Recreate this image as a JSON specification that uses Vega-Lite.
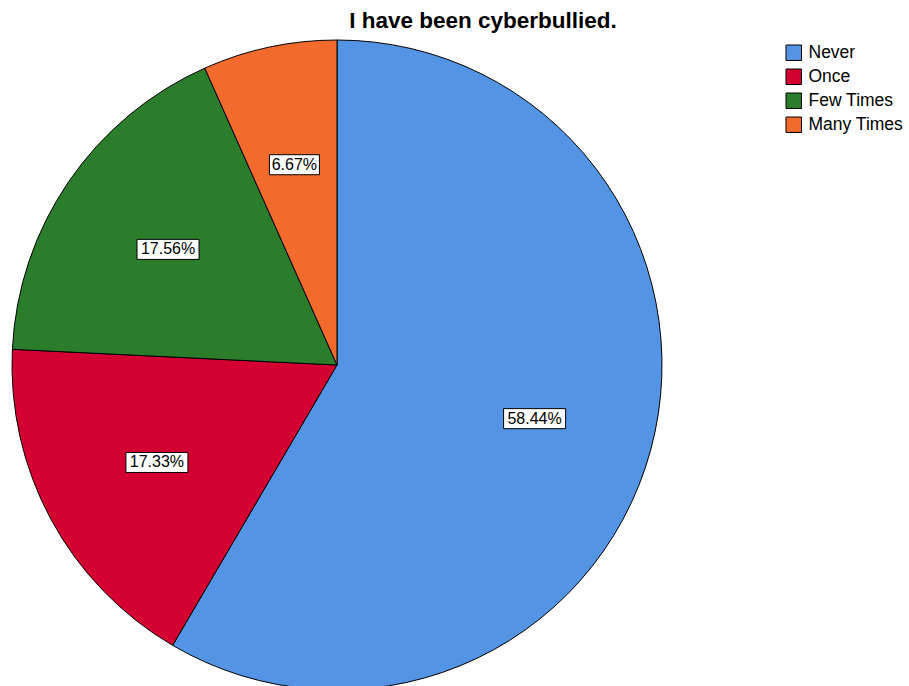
{
  "$schema": "https://vega.github.io/schema/vega-lite/v6.json",
  "width": 650,
  "height": 650,
  "autosize": {"type": "none"},
  "padding": {"left": 12, "top": 40, "right": 247, "bottom": 0},
  "background": "white",
  "title": {
    "text": "I have been cyberbullied.",
    "font": "Liberation Sans",
    "fontSize": 22.5,
    "fontWeight": "bold",
    "color": "black",
    "anchor": "middle",
    "dx": 146,
    "offset": -12,
    "baseline": "alphabetic"
  },
  "config": {"view": {"stroke": null}},
  "data": {
    "values": [
      {"category": "Never", "pct": 58.44, "label": "58.44%", "order": 1},
      {"category": "Once", "pct": 17.33, "label": "17.33%", "order": 2},
      {"category": "Few Times", "pct": 17.56, "label": "17.56%", "order": 3},
      {"category": "Many Times", "pct": 6.67, "label": "6.67%", "order": 4}
    ]
  },
  "transform": [
    {"window": [{"op": "sum", "field": "pct", "as": "cum"}], "sort": [{"field": "order"}], "frame": [null, 0]},
    {"calculate": "(datum.cum - datum.pct / 2) / 100 * 2 * PI", "as": "mid"},
    {"calculate": "0.63 * sin(datum.mid)", "as": "lx"},
    {"calculate": "0.63 * cos(datum.mid)", "as": "ly"},
    {"calculate": "length(datum.label)", "as": "nchar"}
  ],
  "layer": [
    {
      "mark": {"type": "arc", "stroke": "black", "strokeWidth": 1},
      "encoding": {
        "theta": {"field": "pct", "type": "quantitative", "stack": true},
        "order": {"field": "order", "type": "quantitative"},
        "color": {
          "field": "category",
          "type": "nominal",
          "scale": {
            "domain": ["Never", "Once", "Few Times", "Many Times"],
            "range": ["#5494E4", "#D50032", "#2B7D2B", "#F26A2C"]
          },
          "legend": {
            "title": null,
            "orient": "none",
            "legendX": 773,
            "legendY": 4,
            "padding": 0,
            "symbolType": "square",
            "symbolSize": 240,
            "symbolStrokeColor": "black",
            "symbolStrokeWidth": 1,
            "symbolOpacity": 1,
            "labelFont": "Liberation Sans",
            "labelFontSize": 17.5,
            "labelColor": "black",
            "labelOffset": 6,
            "rowPadding": 4
          }
        }
      }
    },
    {
      "mark": {"type": "point", "filled": true, "fill": "white", "stroke": "black", "strokeWidth": 1, "opacity": 1},
      "encoding": {
        "x": {"field": "lx", "type": "quantitative", "scale": {"domain": [-1, 1]}, "axis": null},
        "y": {"field": "ly", "type": "quantitative", "scale": {"domain": [-1, 1]}, "axis": null},
        "shape": {
          "field": "nchar",
          "type": "ordinal",
          "scale": {
            "domain": [5, 6],
            "range": ["M-0.806,-0.323H0.806V0.323H-0.806Z", "M-1,-0.323H1V0.323H-1Z"]
          },
          "legend": null
        },
        "size": {"value": 3844}
      }
    },
    {
      "mark": {"type": "text", "font": "Liberation Sans", "fontSize": 16, "color": "black", "align": "center", "baseline": "middle"},
      "encoding": {
        "x": {"field": "lx", "type": "quantitative", "scale": {"domain": [-1, 1]}, "axis": null},
        "y": {"field": "ly", "type": "quantitative", "scale": {"domain": [-1, 1]}, "axis": null},
        "text": {"field": "label", "type": "nominal"}
      }
    }
  ]
}
